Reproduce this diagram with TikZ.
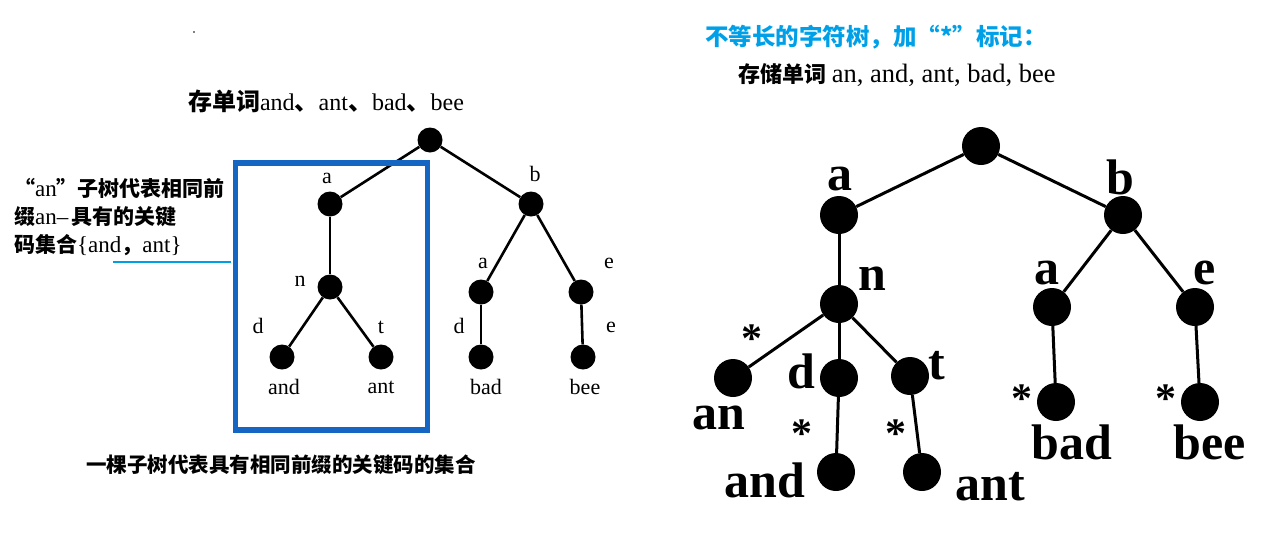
\documentclass[tikz,border=0pt]{standalone}
\usepackage{fontspec}
\setmainfont{Liberation Serif}
\newfontfamily\cjk{Noto Sans CJK SC}
\usepackage{tikz}
\usetikzlibrary{positioning}
\definecolor{framblue}{RGB}{20,102,194}
\definecolor{noteblue}{RGB}{0,158,226}
\definecolor{headblue}{RGB}{0,160,232}
\tikzset{
  dot/.style     = {circle, fill=black, inner sep=0pt, minimum size=25pt},
  bigdot/.style  = {circle, fill=black, inner sep=0pt, minimum size=38pt},
  edge/.style    = {line width=2.6pt},
  bigedge/.style = {line width=3pt},
  lbl/.style     = {inner sep=0pt, font=\fontsize{22}{24}\selectfont},
  blbl/.style    = {inner sep=0pt, font=\fontsize{50}{52}\selectfont\bfseries},
  star/.style    = {inner sep=0pt, font=\fontsize{42}{44}\selectfont\bfseries},
  zhtxt/.style   = {inner sep=0pt, align=left, font=\fontsize{21}{28}\selectfont},
}
\newcommand{\zh}[1]{{\cjk\bfseries #1}}
\newcommand{\la}[1]{{\fontsize{23}{28}\selectfont #1}}

\begin{document}
\begin{tikzpicture}[x=1pt,y=-1pt]
  \useasboundingbox (0,0) rectangle (1283,547);
  \fill (194,32) circle (0.8);
  % left: trie of and, ant, bad, bee
  \node[lbl, font=\fontsize{24}{26}\selectfont] (ltitle) at (326,101) {\zh{存单词}and\zh{、}ant\zh{、}bad\zh{、}bee};
  \node[dot] (lroot) at (430,140) {};
  \node[dot] (la) at (330,204) {};
  \node[dot] (lb) at (531,204) {};
  \node[dot] (ln) at (330,287) {};
  \node[dot] (lba) at (481,292) {};
  \node[dot] (lbe) at (581,292) {};
  \node[dot] (land) at (282,357) {};
  \node[dot] (lant) at (381,357) {};
  \node[dot] (lbad) at (481,357) {};
  \node[dot] (lbee) at (583,357) {};
  \draw[edge] (lroot) -- (la);
  \draw[edge] (lroot) -- (lb);
  \draw[edge] (la) -- (ln);
  \draw[edge] (ln) -- (land);
  \draw[edge] (ln) -- (lant);
  \draw[edge] (lb) -- (lba);
  \draw[edge] (lb) -- (lbe);
  \draw[edge] (lba) -- (lbad);
  \draw[edge] (lbe) -- (lbee);
  \node[lbl] (lla) at (327,178) {a};
  \node[lbl] (llb) at (535,174) {b};
  \node[lbl] (lln) at (300,281) {n};
  \node[lbl] (llba) at (483,263) {a};
  \node[lbl] (llbe) at (609,263) {e};
  \node[lbl] (lld) at (258,326) {d};
  \node[lbl] (llt) at (381,327) {t};
  \node[lbl] (llbd) at (459,326) {d};
  \node[lbl] (llbee) at (611,327) {e};
  \node[lbl] (wand) at (284,387) {and};
  \node[lbl] (want) at (381,387) {ant};
  \node[lbl] (wbad) at (486,387) {bad};
  \node[lbl] (wbee) at (585,387) {bee};
  \node[draw=framblue, line width=5.5pt, outer sep=0pt, minimum width=192pt, minimum height=267pt, anchor=north west] (frame) at (235.5,163) {};
  \node[zhtxt, anchor=north west] (note) at (14,178) {\zh{“}\la{an}\zh{”子树代表相同前}\\
    \zh{缀}\la{an–}\,\zh{具有的关键}\\
    \zh{码集合}\la{\{and}\zh{，}\la{ant\}}};
  \coordinate (notel) at (113,262);
  \coordinate (noter) at (frame.west |- notel);
  \draw[noteblue, line width=2.2pt] (notel) -- ([xshift=-5pt]noter);
  \node[zhtxt, font=\fontsize{20.5}{28}\selectfont] (bottom) at (281,465) {\zh{一棵子树代表具有相同前缀的关键码的集合}};
  % right: trie with * marks
  \node[inner sep=0pt, font=\fontsize{23.5}{26}\selectfont, text=headblue] (rhead) at (876,37) {\zh{不等长的字符树，加“*”标记：}};
  \node[inner sep=0pt, font=\fontsize{22}{24}\selectfont] (rtitle) at (897,75) {\zh{存储单词} {\fontsize{26.5}{28}\selectfont an, and, ant, bad, bee}};
  \node[bigdot] (rroot) at (981,146) {};
  \node[bigdot] (ra) at (839,215) {};
  \node[bigdot] (rb) at (1123,215) {};
  \node[bigdot] (rn) at (839,304) {};
  \node[bigdot] (ran) at (733,378) {};
  \node[bigdot] (rd) at (839,378) {};
  \node[bigdot] (rt) at (910,376) {};
  \node[bigdot] (rand) at (836,472) {};
  \node[bigdot] (rant) at (922,472) {};
  \node[bigdot] (rba) at (1052,307) {};
  \node[bigdot] (rbe) at (1195,307) {};
  \node[bigdot] (rbad) at (1056,402) {};
  \node[bigdot] (rbee) at (1200,402) {};
  \draw[bigedge] (rroot) -- (ra);
  \draw[bigedge] (rroot) -- (rb);
  \draw[bigedge] (ra) -- (rn);
  \draw[bigedge] (rn) -- (ran);
  \draw[bigedge] (rn) -- (rd);
  \draw[bigedge] (rn) -- (rt);
  \draw[bigedge] (rd) -- (rand);
  \draw[bigedge] (rt) -- (rant);
  \draw[bigedge] (rb) -- (rba);
  \draw[bigedge] (rb) -- (rbe);
  \draw[bigedge] (rba) -- (rbad);
  \draw[bigedge] (rbe) -- (rbee);
  \node[blbl] (rla) at (840,179) {a};
  \node[blbl] (rlb) at (1120,177) {b};
  \node[blbl] (rln) at (872,279) {n};
  \node[blbl] (rlba) at (1047,273) {a};
  \node[blbl] (rlbe) at (1205,273) {e};
  \node[blbl] (rld) at (801,371) {d};
  \node[blbl] (rlt) at (937,366) {t};
  \node[star] (s1) at (752,339) {*};
  \node[star] (s2) at (802,434) {*};
  \node[star] (s3) at (896,434) {*};
  \node[star] (s4) at (1022,399) {*};
  \node[star] (s5) at (1166,399) {*};
  \node[blbl] (wan) at (719,418) {an};
  \node[blbl] (wrand) at (765,480) {and};
  \node[blbl] (wrant) at (990,487) {ant};
  \node[blbl] (wrbad) at (1072,442) {bad};
  \node[blbl] (wrbee) at (1210,442) {bee};
\end{tikzpicture}
\end{document}
